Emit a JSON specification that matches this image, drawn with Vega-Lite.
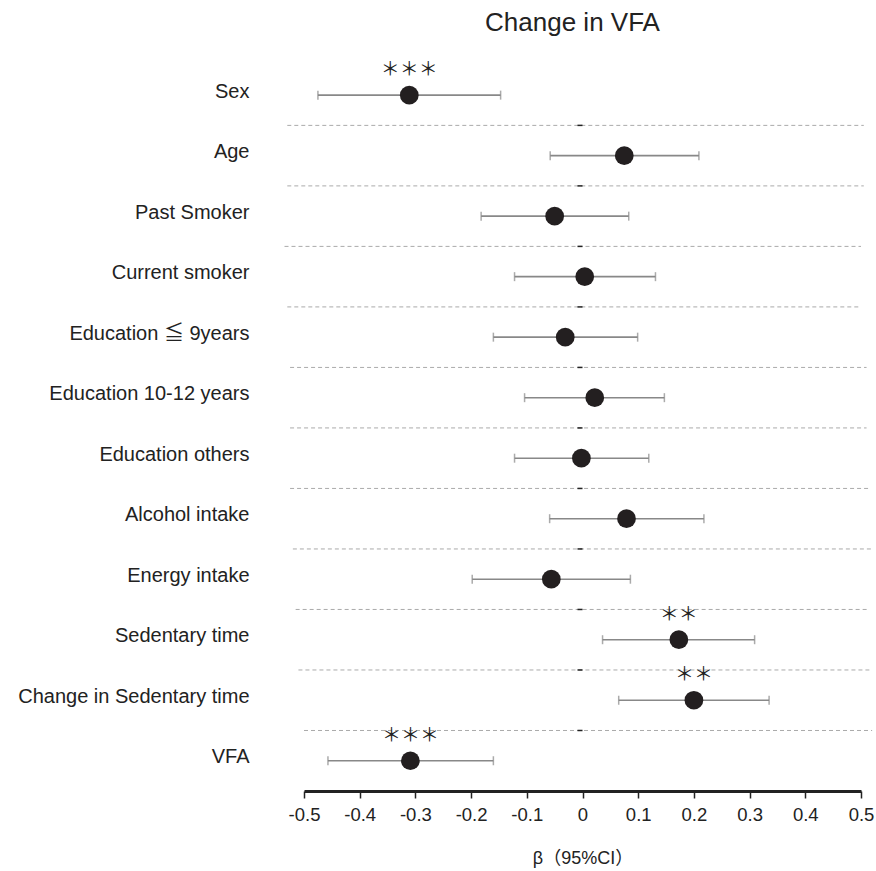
{
  "$schema": "https://vega.github.io/schema/vega-lite/v6.json",
  "autosize": "none",
  "width": 557,
  "height": 711,
  "padding": {"left": 304, "top": 80, "right": 15, "bottom": 80},
  "background": "white",
  "title": {"text": "Change in VFA", "fontSize": 26, "fontWeight": "normal", "font": "Liberation Sans", "color": "#222", "anchor": "middle", "frame": "group", "dx": -10, "offset": 25},
  "config": {"view": {"stroke": null}, "font": "Liberation Sans"},
  "datasets": {
    "rows": [
      {"i": 0, "name": "Sex", "beta": -0.311, "lo": -0.475, "hi": -0.147, "stars": "＊＊＊"},
      {"i": 1, "name": "Age", "beta": 0.075, "lo": -0.058, "hi": 0.209, "stars": ""},
      {"i": 2, "name": "Past Smoker", "beta": -0.05, "lo": -0.182, "hi": 0.083, "stars": ""},
      {"i": 3, "name": "Current smoker", "beta": 0.004, "lo": -0.122, "hi": 0.131, "stars": ""},
      {"i": 4, "name": "Education ≦ 9years", "beta": -0.031, "lo": -0.16, "hi": 0.099, "stars": ""},
      {"i": 5, "name": "Education 10-12 years", "beta": 0.022, "lo": -0.104, "hi": 0.147, "stars": ""},
      {"i": 6, "name": "Education others", "beta": -0.002, "lo": -0.122, "hi": 0.119, "stars": ""},
      {"i": 7, "name": "Alcohol intake", "beta": 0.079, "lo": -0.059, "hi": 0.218, "stars": ""},
      {"i": 8, "name": "Energy intake", "beta": -0.056, "lo": -0.198, "hi": 0.086, "stars": ""},
      {"i": 9, "name": "Sedentary time", "beta": 0.173, "lo": 0.036, "hi": 0.309, "stars": "＊＊"},
      {"i": 10, "name": "Change in Sedentary time", "beta": 0.2, "lo": 0.065, "hi": 0.335, "stars": "＊＊"},
      {"i": 11, "name": "VFA", "beta": -0.309, "lo": -0.457, "hi": -0.16, "stars": "＊＊＊"}
    ],
    "seps": [
      {"s": 0.5, "xs": -0.53, "xe": 0.505},
      {"s": 1.5, "xs": -0.53, "xe": 0.505},
      {"s": 2.5, "xs": -0.535, "xe": 0.5},
      {"s": 3.5, "xs": -0.53, "xe": 0.5},
      {"s": 4.5, "xs": -0.525, "xe": 0.51},
      {"s": 5.5, "xs": -0.525, "xe": 0.51},
      {"s": 6.5, "xs": -0.525, "xe": 0.515},
      {"s": 7.5, "xs": -0.52, "xe": 0.52},
      {"s": 8.5, "xs": -0.515, "xe": 0.515},
      {"s": 9.5, "xs": -0.51, "xe": 0.515},
      {"s": 10.5, "xs": -0.5, "xe": 0.52}
    ]
  },
  "layer": [
    {
      "data": {"name": "seps"},
      "mark": {"type": "rule", "stroke": "#aaaaaa", "strokeWidth": 1, "strokeDash": [4, 3]},
      "encoding": {
        "x": {"field": "xs", "type": "quantitative", "scale": {"domain": [-0.5, 0.5], "nice": false, "zero": false},
          "axis": {"values": [-0.5, -0.4, -0.3, -0.2, -0.1, 0, 0.1, 0.2, 0.3, 0.4, 0.5], "format": "~g", "labelExpr": "replace(datum.label, '−', '-')", "labelFontSize": 18.5, "labelColor": "#222", "labelPadding": 7, "tickSize": 7, "tickWidth": 1.5, "tickColor": "#222", "domainWidth": 3, "domainColor": "#222", "grid": false, "labelFlush": false, "labelOverlap": false, "title": "β（95%CI）", "titleFont": "Liberation Sans, Noto Sans CJK JP", "titleFontSize": 18, "titleFontWeight": "normal", "titleColor": "#222", "titlePadding": 26}},
        "x2": {"field": "xe"},
        "y": {"field": "s", "type": "quantitative", "scale": {"domain": [-0.25, 11.5], "reverse": true, "nice": false, "zero": false},
          "axis": {"values": [0, 1, 2, 3, 4, 5, 6, 7, 8, 9, 10, 11], "labelExpr": "['Sex','Age','Past Smoker','Current smoker','Education ≦ 9years','Education 10-12 years','Education others','Alcohol intake','Energy intake','Sedentary time','Change in Sedentary time','VFA'][datum.value]", "labelFont": "Liberation Sans, Noto Sans CJK JP", "labelFontSize": 20, "labelColor": "#222", "labelPadding": 55, "labelOffset": -4, "labelLimit": 400, "ticks": false, "domain": false, "grid": false, "labelOverlap": false, "labelFlush": false, "labelBound": false, "title": null}}
      }
    },
    {
      "data": {"name": "seps"},
      "transform": [{"calculate": "0", "as": "z"}, {"calculate": "-0.009", "as": "zl"}],
      "mark": {"type": "rule", "stroke": "#222", "strokeWidth": 1.5},
      "encoding": {
        "x": {"field": "zl", "type": "quantitative"},
        "x2": {"field": "z"},
        "y": {"field": "s", "type": "quantitative"}
      }
    },
    {
      "mark": {"type": "rule", "stroke": "#222", "strokeWidth": 1.5},
      "encoding": {"x": {"datum": 0, "type": "quantitative"}}
    },
    {
      "data": {"name": "rows"},
      "mark": {"type": "rule", "stroke": "#888888", "strokeWidth": 1.6},
      "encoding": {
        "x": {"field": "lo", "type": "quantitative"},
        "x2": {"field": "hi"},
        "y": {"field": "i", "type": "quantitative"}
      }
    },
    {
      "data": {"name": "rows"},
      "mark": {"type": "tick", "orient": "vertical", "color": "#888888", "size": 9, "thickness": 1.5},
      "encoding": {
        "x": {"field": "lo", "type": "quantitative"},
        "y": {"field": "i", "type": "quantitative"}
      }
    },
    {
      "data": {"name": "rows"},
      "mark": {"type": "tick", "orient": "vertical", "color": "#888888", "size": 9, "thickness": 1.5},
      "encoding": {
        "x": {"field": "hi", "type": "quantitative"},
        "y": {"field": "i", "type": "quantitative"}
      }
    },
    {
      "data": {"name": "rows"},
      "mark": {"type": "circle", "color": "#231f20", "opacity": 1, "size": 350},
      "encoding": {
        "x": {"field": "beta", "type": "quantitative"},
        "y": {"field": "i", "type": "quantitative"}
      }
    },
    {
      "data": {"name": "rows"},
      "mark": {"type": "text", "font": "Noto Sans CJK JP", "fontSize": 19, "color": "#222", "dy": -25, "baseline": "middle", "align": "center"},
      "encoding": {
        "x": {"field": "beta", "type": "quantitative"},
        "y": {"field": "i", "type": "quantitative"},
        "text": {"field": "stars"}
      }
    }
  ]
}
